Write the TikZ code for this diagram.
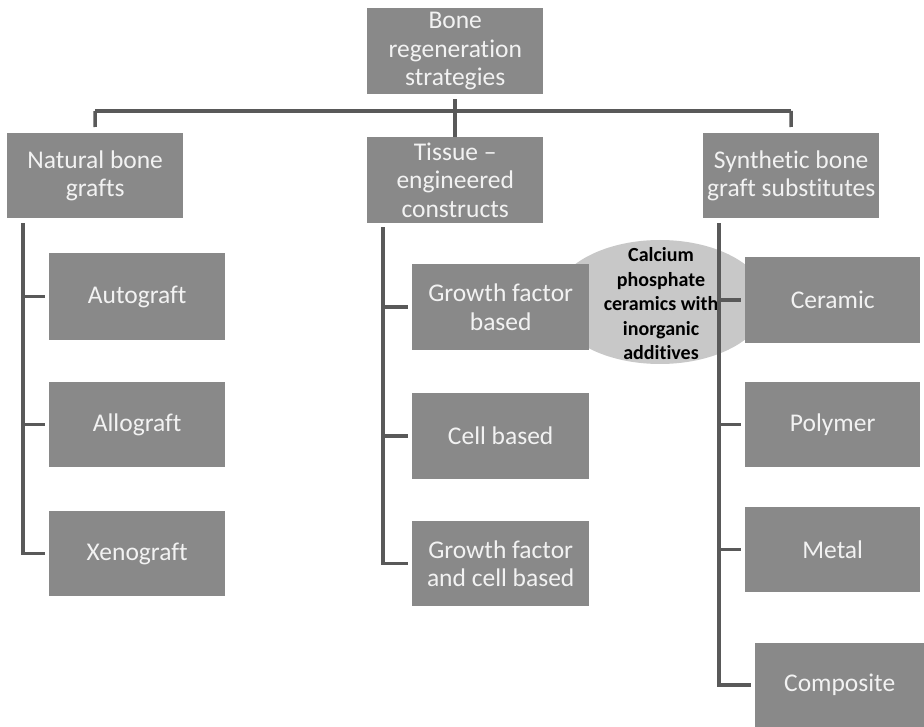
\documentclass[tikz,border=0pt]{standalone}
\usepackage{fontspec}
\setmainfont[Ligatures=NoCommon]{Carlito}
\usetikzlibrary{shapes.geometric}
\definecolor{boxgray}{HTML}{898989}
\definecolor{linegray}{HTML}{595959}
\definecolor{ellgray}{HTML}{C8C8C8}
\definecolor{txtwhite}{HTML}{F2F2F2}
\tikzset{
  box/.style={draw=none, fill=boxgray, anchor=north west, inner sep=0pt,
    text=txtwhite, align=center,
    font=\fontsize{25.5}{28.5}\selectfont},
  conn/.style={draw=linegray, line width=3.5pt},
}
\begin{document}
\begin{tikzpicture}[x=1pt,y=-1pt]
\useasboundingbox[fill=white] (0,0) rectangle (924,727);

% ellipse callout (behind the boxes)
\node[ellipse, fill=ellgray, draw=none, minimum width=214pt, minimum height=124pt, inner sep=0pt] (cap) at (660,302) {};
\node[align=center, inner sep=0pt, font=\fontsize{20}{24.5}\selectfont\bfseries, text=black] (capt) at (661,304)
  {Calcium\\phosphate\\ceramics with\\inorganic\\additives};

% top
\node[box, minimum width=176pt, minimum height=86pt] (top) at (367,8) {Bone\\regeneration\\strategies};

% level 1
\node[box, minimum width=176pt, minimum height=85pt] (nat) at (7,133) {Natural bone\\grafts};
\node[box, minimum width=176pt, minimum height=86pt] (tis) at (367,137) {Tissue –\\engineered\\constructs};
\node[box, minimum width=176pt, minimum height=85pt] (syn) at (703,133) {Synthetic bone\\graft substitutes};

% left children
\node[box, minimum width=176pt, minimum height=87pt] (auto) at (49,253) {Autograft};
\node[box, minimum width=176pt, minimum height=85pt] (allo) at (49,382) {Allograft};
\node[box, minimum width=176pt, minimum height=85pt] (xeno) at (49,511) {Xenograft};

% middle children
\node[box, minimum width=177pt, minimum height=86pt] (gf) at (412,264) {Growth factor\\based};
\node[box, minimum width=177pt, minimum height=86pt] (cell) at (412,393) {Cell based};
\node[box, minimum width=177pt, minimum height=85pt] (gfc) at (412,521) {Growth factor\\and cell based};

% right children
\node[box, minimum width=175pt, minimum height=86pt] (cer) at (745,257) {Ceramic};
\node[box, minimum width=175pt, minimum height=85pt] (poly) at (745,382) {Polymer};
\node[box, minimum width=175pt, minimum height=85pt] (met) at (745,507) {Metal};
\node[box, minimum width=169pt, minimum height=84pt] (comp) at (755,643) {Composite};

% top-level connectors
\coordinate (hL) at (95,111);
\coordinate (hR) at (791,111);
\draw[conn] (hL) -- (hR);
\draw[conn] ([yshift=-5pt]top.south) -- (tis.north);
\draw[conn] (hL) -- ([yshift=6pt]nat.north);
\draw[conn] (hR) -- ([yshift=6pt]syn.north);

% left spine
\coordinate (ls) at ([xshift=16pt,yshift=-5pt]nat.south west);
\draw[conn] (ls) |- ([xshift=-4pt]xeno.west);
\draw[conn] (auto.west -| ls) -- ([xshift=-4pt]auto.west);
\draw[conn] (allo.west -| ls) -- ([xshift=-4pt]allo.west);

% middle spine
\coordinate (ms) at ([xshift=16pt,yshift=-4pt]tis.south west);
\draw[conn] (ms) |- ([xshift=-4pt]gfc.west);
\draw[conn] (gf.west -| ms) -- ([xshift=-4pt]gf.west);
\draw[conn] (cell.west -| ms) -- ([xshift=-4pt]cell.west);

% right spine
\coordinate (rs) at ([xshift=16pt,yshift=-5pt]syn.south west);
\draw[conn] (rs) |- ([xshift=-4pt]comp.west);
\draw[conn] (cer.west -| rs) -- ([xshift=-4pt]cer.west);
\draw[conn] (poly.west -| rs) -- ([xshift=-4pt]poly.west);
\draw[conn] (met.west -| rs) -- ([xshift=-4pt]met.west);
\end{tikzpicture}
\end{document}
